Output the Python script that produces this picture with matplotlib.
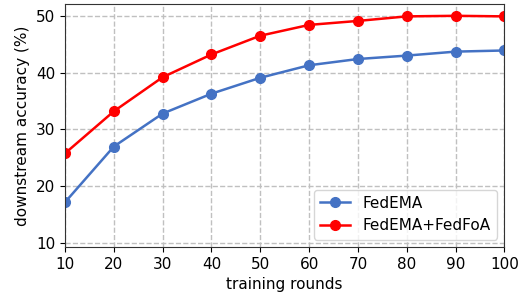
import matplotlib
matplotlib.use("Agg")
import matplotlib.pyplot as plt

rounds = [10, 20, 30, 40, 50, 60, 70, 80, 90, 100]
fedema = [17.2, 27.0, 32.8, 36.3, 39.1, 41.3, 42.4, 43.0, 43.7, 43.9]
fedema_fedfoa = [25.8, 33.2, 39.2, 43.2, 46.5, 48.4, 49.1, 49.9, 50.0, 49.9]

plt.rcParams['font.size'] = 11
fig, ax = plt.subplots(figsize=(5.2, 2.96), dpi=100)
ax.plot(rounds, fedema, '-o', color='#4472C4', lw=1.8, ms=7, label='FedEMA')
ax.plot(rounds, fedema_fedfoa, '-o', color='red', lw=1.8, ms=7, label='FedEMA+FedFoA')
ax.set_xlim(10, 100)
ax.set_ylim(9.3, 52)
ax.set_xticks(rounds)
ax.set_yticks([10, 20, 30, 40, 50])
ax.grid(True, linestyle='--', color='#c0c0c0', lw=1)
for s in ax.spines.values():
    s.set_color('#333333')
ax.set_xlabel('training rounds')
ax.set_ylabel('downstream accuracy (%)')
ax.legend(loc='lower right')
fig.subplots_adjust(left=0.125, right=0.97, top=0.985, bottom=0.165)
fig.savefig('out.png', dpi=100)
